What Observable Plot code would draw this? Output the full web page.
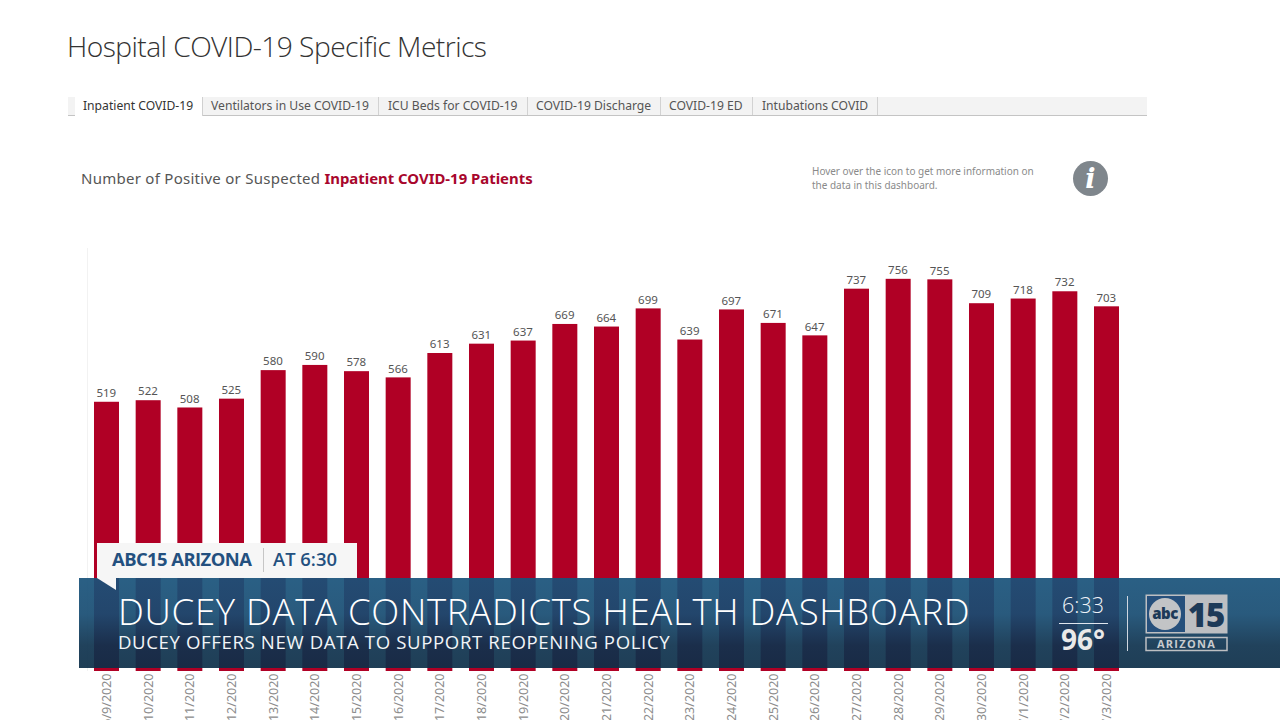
<!DOCTYPE html>
<html>
<head>
<meta charset="utf-8">
<script src="https://cdn.jsdelivr.net/npm/d3@7"></script>
<script src="https://cdn.jsdelivr.net/npm/@observablehq/plot@0.6"></script>
<style>
html,body{margin:0;padding:0;background:#fff;width:1280px;height:720px;overflow:hidden}
body{position:relative;font-family:"Open Sans",sans-serif}
#chart{position:absolute;left:0;top:0}
.a{position:absolute;white-space:nowrap}
#title{left:67px;top:27px;font-size:28.2px;font-weight:300;color:#333;letter-spacing:-.55px}
#strip{left:68px;top:97px;width:1079px;height:18px;background:#f3f3f3;border-bottom:1px solid #c4c4c4}
#active{left:75px;top:97px;width:127px;height:19px;background:#fff;border-right:1px solid #d0d0d0}
.tab{top:97px;font-size:12.15px;color:#555;font-family:"Noto Sans",sans-serif}
.sep{top:97px;width:1px;height:18px;background:#d2d2d2}
#sub{left:81px;top:168px;font-size:15px;letter-spacing:.27px;color:#555;font-family:"Noto Sans",sans-serif}
#sub b{color:#a8062c;font-weight:700;font-size:14.9px;letter-spacing:0}
#hover{left:812px;top:165px;font-size:9.96px;line-height:13.5px;color:#8a8a8a;font-family:"Noto Sans",sans-serif}
#info{left:1073px;top:161px;width:35px;height:35px;border-radius:50%;background:#7f868c;color:#fff;text-align:center;font:italic 700 27px/35px "DejaVu Serif",serif}
#axis{left:87px;top:248px;width:1px;height:423px;background:#f2f2f2}
#tag{left:97px;top:543px;width:260px;height:35px;background:#f6f6f6}
#tail{left:97px;top:578px;width:19px;height:12px;background:#f6f6f6;clip-path:polygon(0 0,100% 0,100% 100%)}
#tagtext{left:112px;top:546px;font-size:18.4px;font-weight:700;color:#23507f;letter-spacing:-.55px}
#tagsep{left:263px;top:548px;width:1px;height:24px;background:#c6c6c6}
#tagtext2{left:273px;top:546px;font-size:18.4px;font-weight:600;color:#23507f;letter-spacing:0}
#banner{left:79px;top:578px;width:1201px;height:90px;background:linear-gradient(rgba(24,82,122,.92) 0%,rgba(23,76,114,.92) 40%,rgba(14,50,78,.92) 75%,rgba(12,46,72,.92) 100%)}
#head{left:118px;top:586px;font-size:36.6px;font-weight:300;color:#fff;letter-spacing:.69px}
#subhead{left:118px;top:629px;font-size:18.6px;font-weight:500;color:#f2f5f8;letter-spacing:.62px}
#time{left:1062px;top:590px;font-size:21.5px;font-weight:300;color:#eef3f8}
#rule1{left:1059px;top:623px;width:49px;height:1px;background:#dfe6ee}
#temp{left:1061px;top:620px;font-size:28px;font-weight:700;color:#e9e9e9}
#rule2{left:1127px;top:596px;width:1px;height:55px;background:#cfd7e0}
#logo{left:1145px;top:594px}
</style>
</head>
<body>
<div id="root"></div>
<script>
const dates = ["6/9/2020","6/10/2020","6/11/2020","6/12/2020","6/13/2020","6/14/2020","6/15/2020","6/16/2020","6/17/2020","6/18/2020","6/19/2020","6/20/2020","6/21/2020","6/22/2020","6/23/2020","6/24/2020","6/25/2020","6/26/2020","6/27/2020","6/28/2020","6/29/2020","6/30/2020","7/1/2020","7/2/2020","7/3/2020"];
const patients = [519,522,508,525,580,590,578,566,613,631,637,669,664,699,639,697,671,647,737,756,755,709,718,732,703];
const tabs = [["Inpatient COVID-19",83],["Ventilators in Use COVID-19",211],["ICU Beds for COVID-19",388],["COVID-19 Discharge",536],["COVID-19 ED",669],["Intubations COVID",762]];
const seps = [378,527,660,752,877];

const table = dates.map((d,i)=>({date:d,value:patients[i]}));
const chart = Plot.plot({
  width:1280,height:720,
  marginLeft:77.33,marginRight:144.33,marginTop:256,marginBottom:49,
  style:{background:"transparent",fontFamily:"'Noto Sans',sans-serif"},
  x:{domain:dates,padding:0.4,round:false,label:null},
  y:{domain:[0,800],axis:null},
  marks:[
    Plot.barY(table,{x:"date",y:"value",fill:"#b00025"}),
    Plot.text(table,{x:"date",y:"value",text:d=>String(d.value),dy:-9,dx:-0.7,fontSize:11.5,fill:"#555"}),
    Plot.axisX({tickSize:0,tickPadding:2,tickRotate:-90,fontSize:12.5,color:"#8c8c8c",label:null})
  ]
});
chart.id="chart";
const root=document.getElementById("root");
root.appendChild(chart);
function add(id,html,cls,style){const e=document.createElement("div");if(id)e.id=id;e.className="a "+(cls||"");if(html)e.innerHTML=html;if(style)e.style.cssText=style;root.appendChild(e);return e;}
add("title","Hospital COVID-19 Specific Metrics");
add("strip");add("active");
tabs.forEach(([t,x],i)=>add(null,t,"tab","left:"+x+"px;"+(i==0?"color:#333":"")));
seps.forEach(x=>add(null,"","sep","left:"+x+"px"));
add("sub","Number of Positive or Suspected <b>Inpatient COVID-19 Patients</b>");
add("hover","Hover over the icon to get more information on<br>the data in this dashboard.");
add("info","i");
add("axis");
add("banner");
add("tag");add("tail");
add("tagtext","ABC15 ARIZONA");add("tagsep");add("tagtext2","AT 6:30");
add("head","DUCEY DATA CONTRADICTS HEALTH DASHBOARD");
add("subhead","DUCEY OFFERS NEW DATA TO SUPPORT REOPENING POLICY");
add("time","6:33");add("rule1");add("temp","96°");add("rule2");
add("logo",`<svg width="83" height="58" xmlns="http://www.w3.org/2000/svg" font-family="'Open Sans',sans-serif">
<rect x="0.5" y="0.5" width="82" height="39" fill="#bdbfc2"/>
<rect x="2" y="2" width="38" height="36" fill="#26507c"/>
<circle cx="20" cy="20" r="16" fill="#c2c4c6"/>
<text x="20" y="25" text-anchor="middle" font-size="15" font-weight="800" fill="#1d3a58" letter-spacing="-.5">abc</text>
<text x="61" y="33" text-anchor="middle" font-size="33" font-weight="800" fill="#1d3a58" letter-spacing="-1">15</text>
<rect x="1" y="43.5" width="81" height="13" fill="none" stroke="#bdbfc2" stroke-width="1.5"/>
<text x="41.5" y="54" text-anchor="middle" font-size="11" font-weight="700" fill="#c9cbce" letter-spacing="1.3">ARIZONA</text>
</svg>`);
</script>
</body>
</html>
